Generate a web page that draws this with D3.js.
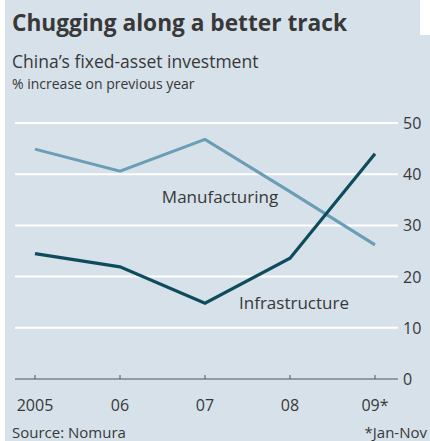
<!DOCTYPE html>
<html>
<head>
  <meta charset="utf-8">
  <style>
    body { margin: 0; background: #fff; }
    svg text { font-family: "Open Sans", sans-serif; fill: #383838; }
  </style>
  <title>Chugging along a better track</title>
</head>
<body>
  <script src="https://cdn.jsdelivr.net/npm/d3@7"></script>
  <script>
    var years = ["2005", "06", "07", "08", "09*"];
    var manufacturing = [44.9, 40.6, 46.8, 36.6, 26.2];
    var infrastructure = [24.5, 21.9, 14.8, 23.6, 44.0];
    var yTicks = [0, 10, 20, 30, 40, 50];

    var W = 430, H = 441;
    var svg = d3.select("body").append("svg")
      .attr("width", W)
      .attr("height", H);

    // background panel with notch at top right
    svg.append("path")
      .attr("d", "M5,0 H420 V35 H430 V441 H5 Z")
      .attr("fill", "#d6e1ea");

    var x = d3.scalePoint()
      .domain(years)
      .range([35, 375]);

    var y = d3.scaleLinear()
      .domain([0, 50])
      .range([379, 123]);

    // gridlines
    svg.selectAll(".grid")
      .data(yTicks.filter(d => d > 0))
      .enter().append("line")
      .attr("x1", 15).attr("x2", 398)
      .attr("y1", d => y(d)).attr("y2", d => y(d))
      .attr("stroke", "#fff")
      .attr("stroke-width", 2);

    // y labels
    svg.selectAll(".ylab")
      .data(yTicks)
      .enter().append("text")
      .attr("x", 403)
      .attr("y", d => y(d) + 6)
      .attr("font-size", 16)
      .text(d => d);

    // x axis
    var gx = svg.append("g").attr("transform", "translate(0," + y(0) + ")");
    gx.append("line")
      .attr("x1", 15).attr("x2", 398)
      .attr("stroke", "#555").attr("stroke-width", 1.2);
    gx.selectAll(".tk")
      .data(years)
      .enter().append("line")
      .attr("x1", d => x(d)).attr("x2", d => x(d))
      .attr("y1", 0).attr("y2", -4)
      .attr("stroke", "#555");
    gx.selectAll(".xl")
      .data(years)
      .enter().append("text")
      .attr("x", d => x(d))
      .attr("y", 32)
      .attr("text-anchor", "middle")
      .attr("font-size", 16)
      .text(d => d);

    var line = d3.line()
      .x((d, i) => x(years[i]))
      .y(d => y(d));

    svg.append("path").datum(manufacturing)
      .attr("d", line)
      .attr("fill", "none")
      .attr("stroke", "#6b9db6")
      .attr("stroke-width", 3);

    svg.append("path").datum(infrastructure)
      .attr("d", line)
      .attr("fill", "none")
      .attr("stroke", "#0e4c5d")
      .attr("stroke-width", 3.2);

    svg.append("text")
      .attr("x", 220).attr("y", 203)
      .attr("text-anchor", "middle")
      .attr("font-size", 17)
      .text("Manufacturing");

    svg.append("text")
      .attr("x", 294).attr("y", 309)
      .attr("text-anchor", "middle")
      .attr("font-size", 17)
      .text("Infrastructure");

    // titles
    svg.append("text")
      .attr("x", 12).attr("y", 31)
      .attr("font-size", 22.7)
      .attr("font-weight", "bold")
      .attr("fill", "#222")
      .text("Chugging along a better track");

    svg.append("text")
      .attr("x", 12).attr("y", 68)
      .attr("font-size", 17.5)
      .text("China\u2019s fixed-asset investment");

    svg.append("text")
      .attr("x", 12).attr("y", 89)
      .attr("font-size", 14)
      .text("% increase on previous year");

    svg.append("text")
      .attr("x", 12).attr("y", 438)
      .attr("font-size", 15)
      .text("Source: Nomura");

    svg.append("text")
      .attr("x", 427).attr("y", 438)
      .attr("text-anchor", "end")
      .attr("font-size", 15)
      .text("*Jan-Nov");
  </script>
</body>
</html>
